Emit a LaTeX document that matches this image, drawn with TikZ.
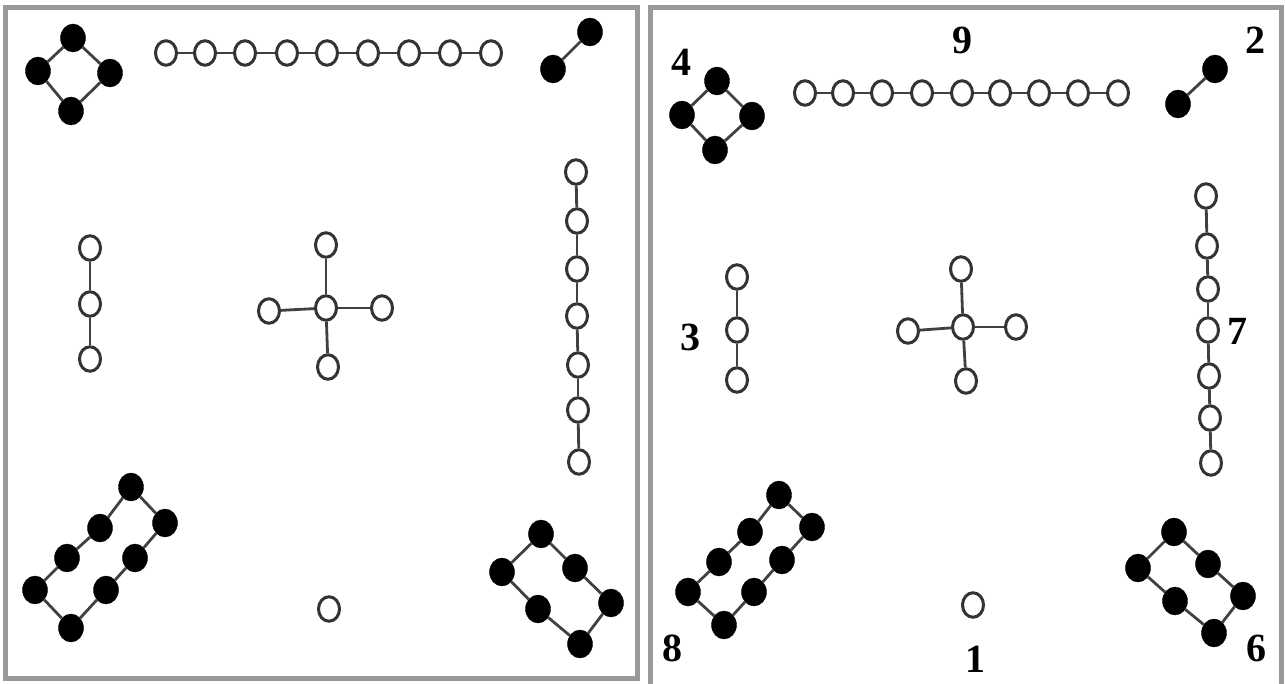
\documentclass[tikz,border=0pt]{standalone}
\usepackage{fontspec}
\setmainfont{Liberation Serif}
\usepackage{tikz}
\usetikzlibrary{shapes.geometric, positioning}

\begin{document}
\begin{tikzpicture}[x=1pt, y=-1pt,
    onode/.style={ellipse, draw=black!80, line width=3pt, fill=white, minimum width=21pt, minimum height=24.5pt, inner sep=0pt},
    fnode/.style={ellipse, draw=black, fill=black, minimum width=25pt, minimum height=28pt, inner sep=0pt},
    link/.style={draw=black!75, line width=2.8pt},
    frame/.style={draw=black!40, line width=5pt},
    num/.style={font=\bfseries\fontsize{40}{40}\selectfont, inner sep=0pt}
]
\useasboundingbox (0,0) rectangle (1285,684);

% Frames
\draw[frame] (5,8) rectangle (637,678);
\draw[frame] (650,700) -- (650,8) -- (1281,8) -- (1281,700);

% ---------------- Left panel ----------------
% ring of four
\foreach \x/\y [count=\i] in {73/38, 38/71, 110/73, 71/111}
    \node[fnode] (lfour\i) at (\x,\y) {};
\draw[link] (lfour1) -- (lfour2) -- (lfour4) -- (lfour3) -- (lfour1);

% chain of nine
\foreach \x [count=\i] in {166,205,245,287,327,368,409,450,491}
    \node[onode] (lnine\i) at (\x,53) {};
\foreach \i [count=\j from 2] in {1,...,8}
    \draw[link] (lnine\i) -- (lnine\j);

% pair
\node[fnode] (lpairA) at (590,32) {};
\node[fnode] (lpairB) at (553,69) {};
\draw[link] (lpairA) -- (lpairB);

% chain of three
\foreach \y [count=\i] in {248,304,359}
    \node[onode] (lthree\i) at (90,\y) {};
\draw[link] (lthree1) -- (lthree2) -- (lthree3);

% star
\node[onode] (lstar) at (326,308) {};
\foreach \x/\y [count=\i] in {326/245, 328/367, 269/311, 382/308} {
    \node[onode] (lleaf\i) at (\x,\y) {};
    \draw[link] (lstar) -- (lleaf\i);
}

% chain of seven
\foreach \x/\y [count=\i] in {576/172, 577/221, 577/269, 577/316, 578/365, 578/410, 579/462}
    \node[onode] (lseven\i) at (\x,\y) {};
\foreach \i [count=\j from 2] in {1,...,6}
    \draw[link] (lseven\i) -- (lseven\j);

% ring of eight
\foreach \x/\y [count=\i] in {131/487, 165/523, 135/558, 106/590, 71/628, 35/590, 67/558, 100/528}
    \node[fnode] (leight\i) at (\x,\y) {};
\draw[link] (leight1) -- (leight2) -- (leight3) -- (leight4) -- (leight5) -- (leight6) -- (leight7) -- (leight8) -- (leight1);

% single
\node[onode] (lone) at (329,609) {};

% ring of six
\foreach \x/\y [count=\i] in {541/534, 575/568, 611/603, 580/644, 538/609, 502/572}
    \node[fnode] (lsix\i) at (\x,\y) {};
\draw[link] (lsix1) -- (lsix2) -- (lsix3) -- (lsix4) -- (lsix5) -- (lsix6) -- (lsix1);

% ---------------- Right panel ----------------
% ring of four
\foreach \x/\y [count=\i] in {717/81, 682/115, 752/116, 715/150}
    \node[fnode] (rfour\i) at (\x,\y) {};
\draw[link] (rfour1) -- (rfour2) -- (rfour4) -- (rfour3) -- (rfour1);
\node[num] (lab4) at (681,62) {4};

% chain of nine
\foreach \x [count=\i] in {805,843,882,922,962,1000,1039,1078,1118}
    \node[onode] (rnine\i) at (\x,93) {};
\foreach \i [count=\j from 2] in {1,...,8}
    \draw[link] (rnine\i) -- (rnine\j);
\node[num] (lab9) at (962,40) {9};

% pair
\node[fnode] (rpairA) at (1215,69) {};
\node[fnode] (rpairB) at (1178,104) {};
\draw[link] (rpairA) -- (rpairB);
\node[num] (lab2) at (1255,40) {2};

% chain of three
\foreach \y [count=\i] in {277,330,380}
    \node[onode] (rthree\i) at (737,\y) {};
\draw[link] (rthree1) -- (rthree2) -- (rthree3);
\node[num] (lab3) at (690,337) {3};

% star
\node[onode] (rstar) at (963,327) {};
\foreach \x/\y [count=\i] in {961/269, 966/381, 908/331, 1016/327} {
    \node[onode] (rleaf\i) at (\x,\y) {};
    \draw[link] (rstar) -- (rleaf\i);
}

% chain of seven
\foreach \x/\y [count=\i] in {1206/196, 1207/246, 1208/289, 1208/330, 1209/376, 1210/418, 1211/463}
    \node[onode] (rseven\i) at (\x,\y) {};
\foreach \i [count=\j from 2] in {1,...,6}
    \draw[link] (rseven\i) -- (rseven\j);
\node[num] (lab7) at (1237,331) {7};

% ring of eight
\foreach \x/\y [count=\i] in {779/495, 812/527, 782/560, 754/592, 724/625, 688/592, 719/562, 750/532}
    \node[fnode] (reight\i) at (\x,\y) {};
\draw[link] (reight1) -- (reight2) -- (reight3) -- (reight4) -- (reight5) -- (reight6) -- (reight7) -- (reight8) -- (reight1);
\node[num] (lab8) at (672,648) {8};

% single
\node[onode] (rone) at (973,605) {};
\node[num] (lab1) at (975,659) {1};

% ring of six
\foreach \x/\y [count=\i] in {1174/532, 1208/564, 1243/596, 1214/633, 1175/601, 1138/568}
    \node[fnode] (rsix\i) at (\x,\y) {};
\draw[link] (rsix1) -- (rsix2) -- (rsix3) -- (rsix4) -- (rsix5) -- (rsix6) -- (rsix1);
\node[num] (lab6) at (1256,648) {6};

\end{tikzpicture}
\end{document}
